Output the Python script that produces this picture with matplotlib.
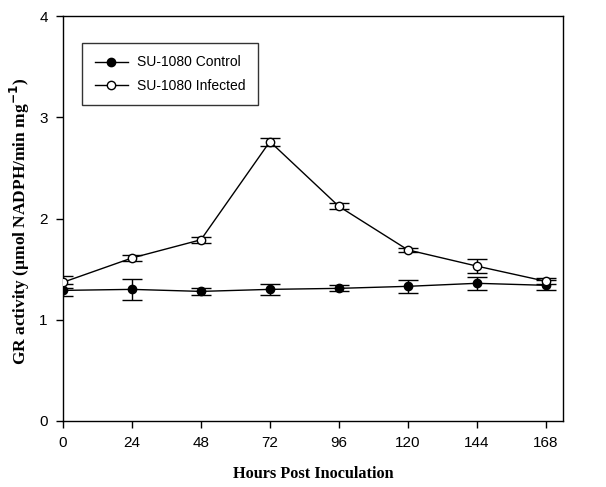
import matplotlib
matplotlib.use("Agg")
import matplotlib.pyplot as plt
from matplotlib.lines import Line2D

hours = [0, 24, 48, 72, 96, 120, 144, 168]
control = [1.29, 1.30, 1.28, 1.30, 1.31, 1.33, 1.36, 1.34]
control_err = [0.06, 0.10, 0.035, 0.057, 0.03, 0.067, 0.065, 0.05]
infected = [1.37, 1.61, 1.79, 2.76, 2.12, 1.69, 1.53, 1.38]
infected_err = [0.06, 0.03, 0.03, 0.04, 0.03, 0.02, 0.07, 0.03]
xticks = [0, 24, 48, 72, 96, 120, 144, 168]
yticks = [0, 1, 2, 3, 4]
labels = ['SU-1080 Control', 'SU-1080 Infected']

W, H = 606, 487
fig = plt.figure(figsize=(W / 100, H / 100), dpi=100)
ax = fig.add_axes([63 / W, 1 - 421 / H, 500 / W, 405 / H])

sans = ['Liberation Sans', 'DejaVu Sans']
serif = ['Liberation Serif', 'DejaVu Serif']

ax.errorbar(hours, control, yerr=control_err, color='black', marker='o',
            markersize=6, markerfacecolor='black', markeredgecolor='black',
            linewidth=1, elinewidth=1, capsize=7, capthick=1, zorder=3)
ax.errorbar(hours, infected, yerr=infected_err, color='black', marker='o',
            markersize=6, markerfacecolor='white', markeredgecolor='black',
            linewidth=1, elinewidth=1, capsize=7, capthick=1, zorder=4)

ax.set_xlim(0, 174)
ax.set_ylim(0, 4)
ax.set_xticks(xticks)
ax.set_yticks(yticks)
ax.tick_params(direction='out', length=5, width=1, labelsize=11, pad=6)
for lab in ax.get_xticklabels() + ax.get_yticklabels():
    lab.set_family(sans)

fig.text(313 / W, 1 - 474 / H, 'Hours Post Inoculation', family=serif,
         fontweight='bold', fontsize=11.7, ha='center', va='center')
fig.text(20 / W, 1 - 221 / H, r'GR activity (µmol NADPH/min mg$^{\mathbf{-1}}$)',
         family=serif, fontweight='bold', fontsize=12.5, ha='center',
         va='center', rotation=90)

for s in ax.spines.values():
    s.set_linewidth(1)

handles = [
    Line2D([], [], color='black', marker='o', markersize=6,
           markerfacecolor='black', markeredgecolor='black', linewidth=1),
    Line2D([], [], color='black', marker='o', markersize=6,
           markerfacecolor='white', markeredgecolor='black', linewidth=1),
]
leg = ax.legend(handles, labels, loc='upper left',
                bbox_to_anchor=((82 - 63) / 500, (421 - 43) / 405),
                borderaxespad=0, frameon=True, fancybox=False,
                edgecolor='black', prop={'family': sans, 'size': 10},
                handlelength=2.4, handletextpad=0.65, borderpad=0.9,
                labelspacing=0.65)
leg.get_frame().set_linewidth(1)

fig.savefig('out.png', dpi=100)
